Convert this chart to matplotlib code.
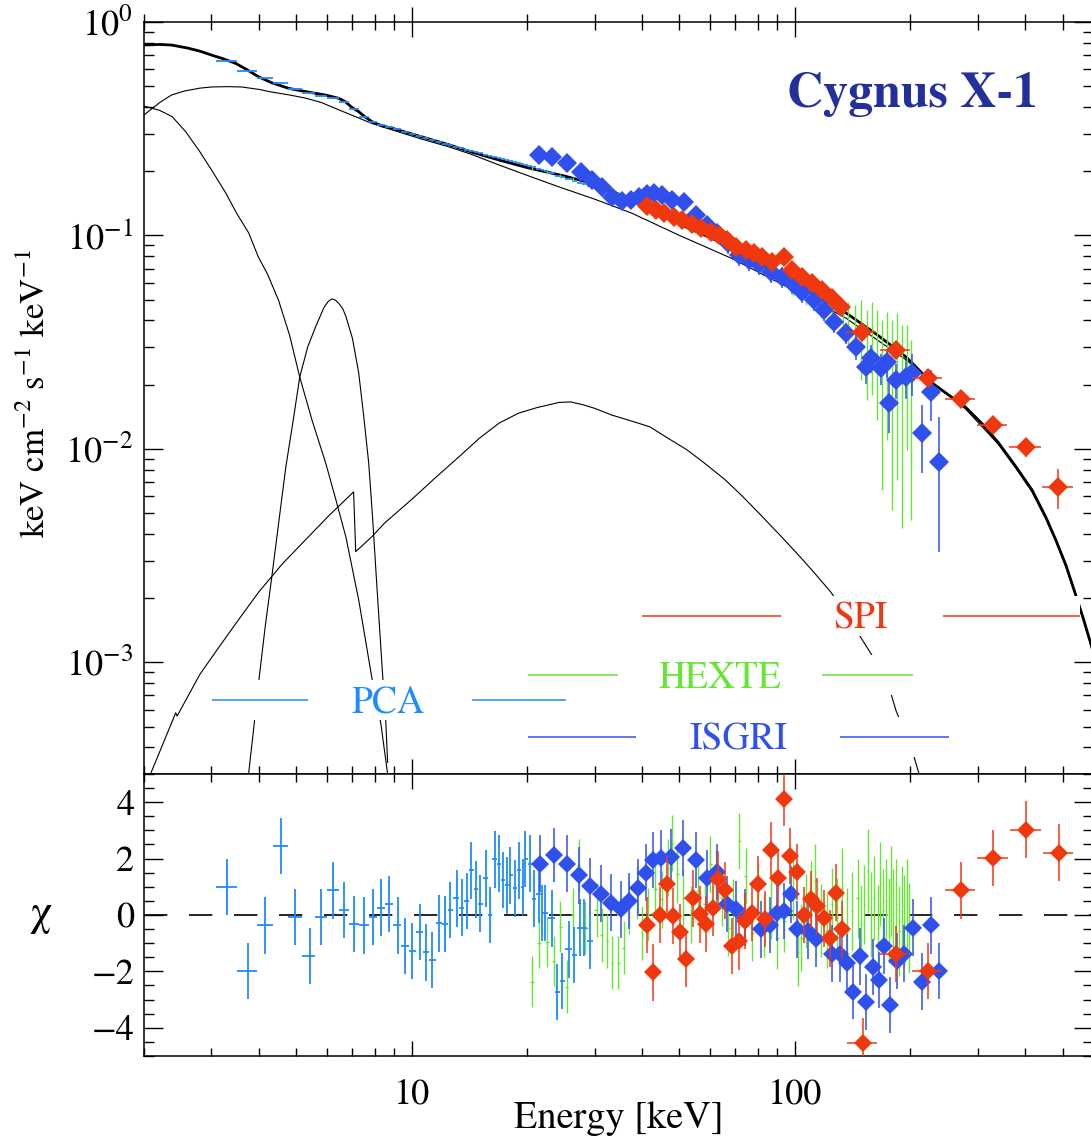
import matplotlib
matplotlib.use('Agg')
import numpy as np
import matplotlib.pyplot as plt
from matplotlib.patches import Rectangle
from matplotlib.ticker import MultipleLocator, NullFormatter, LogLocator

plt.rcParams['font.family'] = ['STIXGeneral', 'DejaVu Serif']
plt.rcParams['mathtext.fontset'] = 'stix'

# ---------------- model components (keV, E^2 N(E)) ----------------
e_tot = [2.0, 2.2, 2.36, 2.6, 2.8, 3.0, 3.2, 3.47, 3.7, 3.98, 4.3, 4.77, 5.28, 5.95,
         6.45, 6.7, 6.98, 7.27, 7.57, 7.88, 8.37, 8.89, 10.6, 12.5, 14.3, 17.0, 20.2,
         25.0, 30.8, 39.0, 50.0, 68.5, 100, 136, 165, 195, 227, 279, 310, 340, 378,
         416, 452, 480, 510, 538, 565, 589, 615]
f_tot = [0.78, 0.785, 0.78, 0.755, 0.73, 0.70, 0.675, 0.64, 0.60, 0.554, 0.52, 0.489,
         0.472, 0.455, 0.439, 0.424, 0.398, 0.38, 0.358, 0.341, 0.326, 0.318, 0.29, 0.266,
         0.246, 0.225, 0.207, 0.19, 0.172, 0.142, 0.113, 0.088, 0.060, 0.0434, 0.034,
         0.027, 0.0205, 0.0157, 0.013, 0.0107, 0.00824, 0.00643, 0.0048, 0.00375,
         0.00286, 0.00214, 0.00163, 0.00127, 0.00097]

e_comp = [2.0, 2.2, 2.36, 2.55, 2.8, 3.0, 3.3, 3.6, 4.0, 4.3, 4.8, 5.28, 5.8, 6.4, 7.0,
          7.86, 9.0, 10.6, 12.5, 14.3, 17.0, 20.2, 24.2, 30.0, 37.6, 50.0, 68.5, 100,
          136, 170, 195, 240, 279, 340, 378, 416, 452, 480, 510, 538, 565, 589, 615]
f_comp = [0.367, 0.42, 0.455, 0.475, 0.49, 0.496, 0.498, 0.496, 0.483, 0.47, 0.455,
          0.44, 0.42, 0.39, 0.365, 0.335, 0.31, 0.283, 0.26, 0.24, 0.213, 0.19, 0.169,
          0.148, 0.127, 0.10, 0.078, 0.055, 0.041, 0.031, 0.0262, 0.019, 0.0154, 0.0105,
          0.0081, 0.0063, 0.0047, 0.0037, 0.0028, 0.0021, 0.0016, 0.00125, 0.00095]

e_disk = [2.0, 2.2, 2.37, 2.57, 2.78, 3.0, 3.27, 3.49, 3.75, 3.98, 4.2, 4.49, 4.8, 5.1,
          5.5, 5.96, 6.35, 6.73, 7.27, 7.86, 8.3, 8.65]
f_disk = [0.404, 0.385, 0.36, 0.306, 0.251, 0.203, 0.158, 0.127, 0.103, 0.079, 0.066,
          0.0497, 0.034, 0.0217, 0.0135, 0.0086, 0.0057, 0.00387, 0.00196, 0.000855,
          0.00052, 0.0003]

e_line = [3.75, 3.89, 4.0, 4.15, 4.31, 4.5, 4.69, 4.9, 5.1, 5.35, 5.61, 5.9, 6.05, 6.18,
          6.32, 6.45, 6.6, 6.73, 7.0, 7.27, 7.5, 7.72, 7.9, 8.1, 8.4, 8.55, 8.65]
f_line = [0.0003, 0.00054, 0.00086, 0.0015, 0.0025, 0.0046, 0.0082, 0.0135, 0.0217,
          0.030, 0.0373, 0.046, 0.049, 0.0504, 0.0498, 0.048, 0.0455, 0.0418, 0.033,
          0.0227, 0.014, 0.0086, 0.0048, 0.00235, 0.000855, 0.00054, 0.00034]

e_refl = [2.08, 2.42, 2.44, 2.8, 3.14, 3.5, 3.99, 4.6, 5.28, 6.1, 7.05, 7.14, 7.86, 8.5,
          10.0, 11.5, 13.3, 15.0, 16.9, 19.0, 21.2, 24.2, 26.0, 28.0, 30.0, 33.3, 37.0,
          41.8, 46.0, 52.3, 58.0, 65.6, 73.0, 82.4, 92.0, 103.6, 113, 124, 136, 149, 157,
          166, 176, 184, 194, 204, 211]
f_refl = [0.0003, 0.00058, 0.00056, 0.00088, 0.00118, 0.00155, 0.00214, 0.0029, 0.00375,
          0.0049, 0.00629, 0.0033, 0.00387, 0.0045, 0.0058, 0.0073, 0.0092, 0.0112,
          0.0132, 0.0147, 0.0156, 0.0165, 0.0166, 0.0161, 0.0155, 0.0144, 0.0136, 0.0127,
          0.0114, 0.0099, 0.0086, 0.0072, 0.006, 0.0048, 0.0039, 0.0031, 0.0026, 0.00214,
          0.0017, 0.0013, 0.00112, 0.00095, 0.00077, 0.00059, 0.00047, 0.00037, 0.0003]

# ---------------- PCA ----------------
pca_e = [3.29, 3.73, 4.15, 4.56, 4.97, 5.41, 5.81, 6.22, 6.67, 7.06, 7.52, 7.91, 8.33,
         8.74, 9.18, 9.63, 10.04, 10.5, 10.9, 11.3, 11.8, 12.2, 12.6, 13.1, 13.5, 13.9,
         14.3, 14.7, 15.1, 15.6, 16.0, 16.5, 16.9, 17.3, 17.7, 18.1, 18.6, 19.0, 19.5,
         19.8, 20.4, 20.8, 21.5, 21.9, 22.3, 23.2, 24.0, 24.7, 25.7, 26.6, 27.5, 28.2, 29.2]
pca_flux = [0.66, 0.59, 0.547, 0.518, 0.486, 0.465, 0.45, 0.44, 0.42, 0.39, 0.36, 0.34,
            0.33, 0.322, 0.315, 0.305, 0.298, 0.291, 0.285, 0.279, 0.274, 0.269, 0.265,
            0.26, 0.256, 0.252, 0.249, 0.246, 0.243, 0.239, 0.236, 0.233, 0.231, 0.228,
            0.225, 0.223, 0.22, 0.218, 0.215, 0.214, 0.211, 0.209, 0.205, 0.203, 0.201,
            0.197, 0.19, 0.187, 0.183, 0.179, 0.176, 0.174, 0.17]
pca_chi = [0.99, -1.98, -0.37, 2.44, -0.07, -1.45, -0.07, 0.87, 0.17, -0.33, -0.37, -0.07,
           0.26, 0.38, -0.37, -1.10, -1.27, -0.60, -1.33, -1.60, -0.30, -0.33, 0.18, 0.59,
           0.26, 0.50, 1.58, 0.91, 0.40, 1.30, 0.0, 1.97, 1.82, 1.23, 1.05, 1.40, 0.94,
           1.58, 0.99, 1.99, 1.82, 0.58, 0.73, 0.06, 0.08, -0.12, -2.73, -2.34, -1.22,
           -1.42, -0.45, -0.45, -0.92]
pca_chi_err = [1.0, 1.0, 1.0, 1.0, 1.0, 1.0, 1.0, 1.0, 1.0, 1.0, 1.0, 1.0, 1.0, 1.0,
               1.0, 1.0, 1.0, 1.0, 1.0, 1.0, 1.0, 1.0, 1.0, 1.0, 1.0, 1.0, 1.0, 1.0,
               1.0, 1.0, 1.0, 1.0, 1.0, 1.0, 1.0, 1.0, 1.0, 1.0, 1.0, 1.0, 1.0, 1.0,
               1.0, 1.0, 1.0, 1.0, 1.0, 1.0, 1.0, 1.0, 1.0, 1.0, 1.0]

# ---------------- HEXTE ----------------
hexte_e = [20.6, 22.6, 24.4, 26.3, 28.4, 30.5, 32.4, 34.6, 37.0, 39.9, 43.2, 46.6, 49.4,
           53.6, 58.2, 62.4, 67.1, 71.6, 77.5, 83.0, 89.8, 98.7, 107, 117, 125, 134, 138,
           143.5, 149, 154, 159, 164, 169, 174, 179, 185, 190, 196, 201]
hexte_flux = [0.205, 0.197, 0.19, 0.183, 0.176, 0.169, 0.163, 0.156, 0.150, 0.142, 0.135,
              0.128, 0.122, 0.114, 0.106, 0.099, 0.091, 0.085, 0.078, 0.072, 0.066, 0.058,
              0.053, 0.047, 0.044, 0.0423, 0.0411, 0.0393, 0.0361, 0.0342, 0.0324, 0.0313,
              0.0297, 0.0290, 0.0276, 0.0261, 0.0256, 0.0247, 0.0234]
hexte_hi = [0.209, 0.201, 0.194, 0.187, 0.180, 0.173, 0.167, 0.160, 0.155, 0.147, 0.140,
            0.133, 0.127, 0.119, 0.111, 0.104, 0.096, 0.090, 0.083, 0.077, 0.071, 0.064,
            0.059, 0.053, 0.050, 0.0473, 0.0488, 0.0473, 0.0499, 0.0449, 0.0488, 0.0449,
            0.0402, 0.0439, 0.0402, 0.0434, 0.0381, 0.0381, 0.0324]
hexte_lo = [0.201, 0.193, 0.186, 0.179, 0.172, 0.165, 0.159, 0.152, 0.145, 0.137, 0.130,
            0.123, 0.117, 0.109, 0.101, 0.094, 0.086, 0.080, 0.073, 0.067, 0.061, 0.052,
            0.047, 0.041, 0.038, 0.0361, 0.0306, 0.0276, 0.0211, 0.0170, 0.0179, 0.0137,
            0.00643, 0.0110, 0.00518, 0.00716, 0.00427, 0.0099, 0.00465]

hexte_res_e = [20.6, 21.5, 22.6, 23.5, 24.4, 25.4, 26.3, 27.3, 28.4, 30.5, 31.3, 32.4,
               33.3, 34.6, 35.8, 37.0, 38.8, 39.9, 41.4, 43.2, 45.0, 46.6, 47.9, 49.4,
               51.2, 53.6, 55.8, 58.2, 60.2, 62.4, 64.5, 67.1, 69.1, 71.6, 74.4, 77.5,
               80.0, 83.0, 86.5, 89.8, 93.6, 98.7, 101.8, 104, 107, 110, 113, 117, 121,
               125, 129, 133, 137, 141, 146, 149, 152, 155, 158, 161, 165, 167, 170, 173,
               176, 178, 181, 184, 187, 190, 193, 196, 199]
hexte_chi = [-2.36, -0.98, -0.96, -1.63, -0.42, -2.54, 0.0, 1.76, -0.45, 0.17, -0.71,
             -0.92, -1.69, -1.69, -1.16, 0.26, 0.79, -0.63, 0.02, 0.91, 0.55, 1.68, 2.56,
             1.44, 0.61, 0.02, 0.85, 0.38, 1.79, 1.32, 0.61, -0.45, 0.26, 2.62, 1.38,
             -0.63, 0.85, -0.39, 0.26, -0.80, -0.21, 0.97, -1.33, -0.80, 0.14, 0.60, 1.20,
             -0.20, -0.57, 0.38, -0.10, 0.97, -0.45, 0.14, 0.60, -0.33, 0.38, 1.56, 0.02,
             0.60, -0.45, 1.10, 0.14, 0.50, -0.20, 0.85, 0.02, 0.38, -0.57, 0.14, -0.20,
             0.38, -0.45]
hexte_chi_err = [0.9, 0.9, 0.9, 0.9, 0.9, 0.95, 0.95, 0.95, 0.95, 0.95, 0.95, 0.95, 0.95,
                 0.95, 0.95, 0.95, 0.95, 0.95, 0.95, 1.0, 1.0, 1.0, 1.0, 1.0, 1.0, 1.0,
                 1.0, 1.0, 1.0, 1.0, 1.0, 1.0, 1.0, 1.0, 1.0, 1.0, 1.0, 1.1, 1.1, 1.1,
                 1.1, 1.1, 1.2, 1.2, 1.3, 1.3, 1.3, 1.3, 1.3, 1.3, 1.4, 1.4, 1.4, 1.4,
                 1.4, 1.4, 1.4, 1.5, 1.5, 1.5, 1.5, 1.5, 1.5, 1.5, 1.5, 1.6, 1.6, 1.6,
                 1.6, 1.6, 1.6, 1.6, 1.6]

# ---------------- ISGRI ----------------
isgri_e = [21.5, 23.2, 25.4, 27.6, 29.5, 31.3, 33.3, 35.3, 37.3, 39.2, 41.1, 42.9, 45.0,
           47.8, 51.3, 55.2, 58.9, 62.5, 66.8, 71.4, 75.8, 80.5, 86.5, 92.4, 98.2, 104.3,
           112.1, 119.1, 126.5, 136, 144.3, 153, 157.8, 167.7, 174, 176, 183.5, 195, 202,
           215, 226.5, 237.7]
isgri_flux = [0.238, 0.233, 0.219, 0.198, 0.182, 0.169, 0.151, 0.145, 0.147, 0.151, 0.156,
              0.158, 0.155, 0.147, 0.144, 0.125, 0.112, 0.1027, 0.0922, 0.081, 0.0768,
              0.0736, 0.0675, 0.0639, 0.060, 0.0543, 0.0499, 0.0448, 0.0393, 0.0349,
              0.0301, 0.0242, 0.0267, 0.0239, 0.0255, 0.0164, 0.0211, 0.0217, 0.0227,
              0.0119, 0.0185, 0.00869]
isgri_flux_err = [0.009, 0.009, 0.009, 0.008, 0.007, 0.007, 0.006, 0.006, 0.006, 0.006,
                  0.008, 0.008, 0.008, 0.008, 0.008, 0.0075, 0.007, 0.011, 0.010, 0.009,
                  0.0085, 0.008, 0.0075, 0.007, 0.0066, 0.006, 0.0055, 0.005, 0.0045,
                  0.004, 0.004, 0.004, 0.004, 0.004, 0.004, 0.0045, 0.004, 0.0045, 0.005,
                  0.0042, 0.005, 0.0054]

isgri_res_e = [21.6, 23.5, 25.4, 27.3, 29.2, 31.2, 33.2, 35.1, 37.0, 38.9, 40.8, 42.7,
               44.8, 47.5, 51.1, 55.2, 59.0, 62.7, 66.6, 70.3, 74.3, 81.4, 86.4, 89.9,
               93.6, 97.8, 101.4, 108.4, 113.7, 124.9, 131.5, 137.1, 142.0, 148.4, 153.8,
               160.3, 165.9, 171.2, 177.7, 185.2, 193.1, 203.3, 214.2, 226.5, 237.7]
isgri_chi = [1.82, 2.12, 1.82, 1.40, 1.03, 0.76, 0.44, 0.20, 0.50, 0.97, 1.50, 1.94, 2.03,
             2.05, 2.38, 1.94, 1.32, 1.53, 0.38, 0.22, -0.09, -0.51, -0.35, 0.08, 0.14,
             0.73, -0.51, -0.57, -0.86, -1.37, -1.37, -1.69, -2.73, -1.47, -3.08, -1.84,
             -2.31, -1.10, -3.20, -1.63, -1.37, -0.45, -2.36, -0.37, -1.98]
isgri_chi_err = [1.0, 0.95, 1.0, 1.0, 1.0, 1.0, 1.0, 1.0, 1.0, 1.0, 1.0, 1.0, 1.0, 1.0,
                 1.0, 1.0, 1.0, 1.0, 1.0, 1.0, 1.0, 1.0, 1.0, 1.0, 1.0, 1.0, 1.0, 1.0,
                 1.0, 1.0, 1.0, 1.0, 0.95, 1.0, 1.0, 1.0, 1.0, 1.0, 1.0, 1.0, 1.0, 1.0,
                 1.0, 1.0, 1.0]

# ---------------- SPI ----------------
spi_e = [41.1, 43.4, 45.5, 48.3, 50.7, 53.8, 56.9, 60.4, 63.4, 66.4, 70.1, 74.5, 78.2,
         82.0, 87.1, 93.6, 98.2, 104.3, 110.7, 117.5, 124.9, 131.8, 149.6, 183.5, 222.5,
         271, 329, 401, 486]
spi_e_err = [0, 0, 0, 0, 0, 0, 0, 0, 0, 0, 0, 0, 0, 0, 0, 0, 0, 0, 0, 0, 0, 0,
             13.5, 16.5, 20, 24.5, 30, 37.5, 45]
spi_flux = [0.1375, 0.1316, 0.1274, 0.122, 0.118, 0.113, 0.108, 0.104, 0.1005, 0.0953,
            0.0883, 0.0855, 0.0828, 0.0793, 0.0751, 0.0793, 0.0689, 0.0639, 0.060, 0.0556,
            0.051, 0.0463, 0.0353, 0.0291, 0.0215, 0.0171, 0.0129, 0.0102, 0.00664]
spi_flux_err = [0.003, 0.003, 0.003, 0.003, 0.003, 0.003, 0.003, 0.003, 0.003, 0.003,
                0.003, 0.003, 0.003, 0.003, 0.003, 0.004, 0.003, 0.003, 0.003, 0.003,
                0.003, 0.003, 0.0015, 0.0012, 0.001, 0.0009, 0.0008, 0.001, 0.0014]

spi_res_e = [41.2, 42.7, 44.4, 46.3, 48.1, 50.1, 52.0, 54.2, 56.5, 58.6, 61.0, 63.2, 65.9,
             68.4, 71.3, 74.3, 77.2, 80.0, 83.4, 86.9, 90.2, 94.0, 97.3, 101.5, 105.8,
             110.3, 114.5, 119.0, 123.6, 128.3, 132.9, 150.5, 183.3, 222.3, 270.8, 329.6,
             401.5, 489]
spi_res_e_err = [0, 0, 0, 0, 0, 0, 0, 0, 0, 0, 0, 0, 0, 0, 0, 0, 0, 0, 0, 0, 0, 0, 0, 0,
                 0, 0, 0, 0, 0, 0, 0, 13.5, 16.5, 20, 24.5, 30, 37.5, 45]
spi_chi = [-0.35, -2.04, 0.0, 1.09, -0.04, -0.6, -1.55, 0.59, 0.02, -0.31, 0.24, 1.26,
           0.87, -1.1, -0.94, -0.21, 0.08, 1.09, -0.15, 2.29, 1.3, 4.12, 2.09, 1.53, 0.0,
           0.55, 0.32, -0.12, -0.83, 0.79, -0.51, -4.55, -1.39, -1.98, 0.87, 2.01, 3.03,
           2.21]
spi_chi_err = [1.0, 1.0, 1.0, 1.0, 1.0, 1.0, 1.0, 1.0, 1.0, 1.0, 1.0, 1.0, 1.0, 1.0,
               1.0, 1.0, 1.0, 1.0, 1.0, 1.0, 1.0, 0.95, 1.0, 1.0, 1.0, 1.0, 1.0, 1.0,
               1.0, 1.0, 1.0, 0.9, 1.0, 1.0, 1.0, 1.0, 1.0, 1.0]

c_pca = '#1e8cff'
c_hexte = '#66e633'
c_isgri = '#3050ee'
c_spi = '#f0380f'
c_title = '#232f9b'


def bin_half_widths(e):
    # bin edges half way (in log) between neighbouring channels
    e = np.asarray(e, float)
    mid = np.sqrt(e[1:] * e[:-1])
    lo = np.concatenate([[e[0] ** 2 / mid[0]], mid])
    hi = np.concatenate([mid, [e[-1] ** 2 / mid[-1]]])
    return np.vstack([e - lo, hi - e])


fig = plt.figure(figsize=(10.91, 11.40), dpi=100)
ax1 = fig.add_axes([0.1320, 0.3211, 0.8697, 0.6596])
ax2 = fig.add_axes([0.1320, 0.0737, 0.8697, 0.2474])

# ---- spectrum ----
for e, f in ((e_comp, f_comp), (e_disk, f_disk), (e_line, f_line), (e_refl, f_refl)):
    ax1.plot(e, f, color='k', lw=0.8, zorder=2)
ax1.plot(e_tot, f_tot, color='k', lw=2.0, zorder=2.5)

ax1.errorbar(pca_e, pca_flux, xerr=bin_half_widths(pca_e), fmt='none',
             ecolor=c_pca, elinewidth=1.3, zorder=3)
hx = np.asarray(hexte_flux)
ax1.errorbar(hexte_e, hexte_flux,
             yerr=[hx - np.asarray(hexte_lo), np.asarray(hexte_hi) - hx],
             fmt='none', ecolor=c_hexte, elinewidth=1.0, zorder=3)
ax1.errorbar(isgri_e, isgri_flux, yerr=isgri_flux_err, fmt='D', ms=10,
             mfc=c_isgri, mec=c_isgri, mew=0, ecolor=c_isgri, elinewidth=1.1,
             capsize=0, zorder=4)
ax1.errorbar(spi_e, spi_flux, xerr=spi_e_err, yerr=spi_flux_err, fmt='D', ms=10,
             mfc=c_spi, mec=c_spi, mew=0, ecolor=c_spi, elinewidth=1.1,
             capsize=0, zorder=4.5)

ax1.set_xscale('log')
ax1.set_yscale('log')
ax1.set_xlim(2, 600)
ax1.set_ylim(3e-4, 1)

ax1.text(0.8094, 0.887, 'Cygnus X-1', transform=ax1.transAxes, ha='center',
         va='baseline', fontsize=36, fontweight='bold', color=c_title)


def key_row(ax, y, left, x_text, right, label, color):
    # blank band behind the instrument key, then the two strokes and the name
    ax.add_patch(Rectangle((left[0], y - 0.026), right[1] - left[0], 0.052,
                           transform=ax.transAxes, fc='white', ec='none', zorder=6))
    for x0, x1 in (left, right):
        ax.plot([x0, x1], [y, y], color=color, lw=1.1, transform=ax.transAxes,
                zorder=7, solid_capstyle='butt')
    ax.text(x_text, y - 0.0168, label, color=color, fontsize=27, ha='center',
            va='baseline', transform=ax.transAxes, zorder=7)


key_row(ax1, 0.2101, (0.5249, 0.6714), 0.7557, (0.8421, 0.9865), 'SPI', c_spi)
key_row(ax1, 0.1316, (0.4047, 0.4996), 0.6071, (0.7146, 0.8105), 'HEXTE', c_hexte)
key_row(ax1, 0.0984, (0.0717, 0.1728), 0.2572, (0.3457, 0.4448), 'PCA', c_pca)
key_row(ax1, 0.0492, (0.4047, 0.5185), 0.6261, (0.7336, 0.8484), 'ISGRI', c_isgri)

# ---- residuals ----
ax2.axhline(0, color='k', lw=1.2, dashes=(14, 13), zorder=1)
ax2.errorbar(pca_e, pca_chi, xerr=bin_half_widths(pca_e), yerr=pca_chi_err,
             fmt='none', ecolor=c_pca, elinewidth=1.3, zorder=3)
ax2.errorbar(hexte_res_e, hexte_chi, xerr=bin_half_widths(hexte_res_e) * 0.5,
             yerr=hexte_chi_err, fmt='none', ecolor=c_hexte, elinewidth=1.0, zorder=2)
ax2.errorbar(isgri_res_e, isgri_chi, yerr=isgri_chi_err, fmt='D', ms=9.5,
             mfc=c_isgri, mec=c_isgri, mew=0, ecolor=c_isgri, elinewidth=1.1,
             capsize=0, zorder=4)
ax2.errorbar(spi_res_e, spi_chi, xerr=spi_res_e_err, yerr=spi_chi_err, fmt='D', ms=9.5,
             mfc=c_spi, mec=c_spi, mew=0, ecolor=c_spi, elinewidth=1.1,
             capsize=0, zorder=4.5)

ax2.set_xscale('log')
ax2.set_xlim(2, 600)
ax2.set_ylim(-5, 5)
ax2.set_xticks([10, 100])
ax2.set_xticklabels(['10', '100'])
ax2.xaxis.set_minor_locator(LogLocator(base=10, subs=np.arange(2, 10)))
ax2.xaxis.set_minor_formatter(NullFormatter())
ax2.yaxis.set_major_locator(MultipleLocator(2))
ax2.yaxis.set_minor_locator(MultipleLocator(0.5))

for ax in (ax1, ax2):
    for sp in ax.spines.values():
        sp.set_linewidth(1.1)
    ax.tick_params(which='both', top=True, right=True, width=1.0, labelsize=26)
    ax.tick_params(axis='y', which='major', direction='in', length=14, pad=8)
    ax.tick_params(axis='y', which='minor', direction='in', length=7.5)

ax1.tick_params(axis='x', which='major', direction='inout', length=21)
ax1.tick_params(axis='x', which='minor', direction='inout', length=12)
ax1.tick_params(axis='x', labelbottom=False)
ax2.tick_params(axis='x', which='major', direction='in', length=11, pad=16)
ax2.tick_params(axis='x', which='minor', direction='in', length=6)
ax2.tick_params(axis='y', pad=7)

fig.text(0.033, 0.655, r'keV cm$^{-2}$ s$^{-1}$ keV$^{-1}$', rotation=90,
         ha='center', va='center', fontsize=25)
fig.text(0.0376, 0.1974, 'χ', ha='center', va='center', fontsize=32)
fig.text(0.5674, 0.0105, 'Energy [keV]', ha='center', va='baseline', fontsize=27.5)

fig.savefig('out.png', dpi=100)
